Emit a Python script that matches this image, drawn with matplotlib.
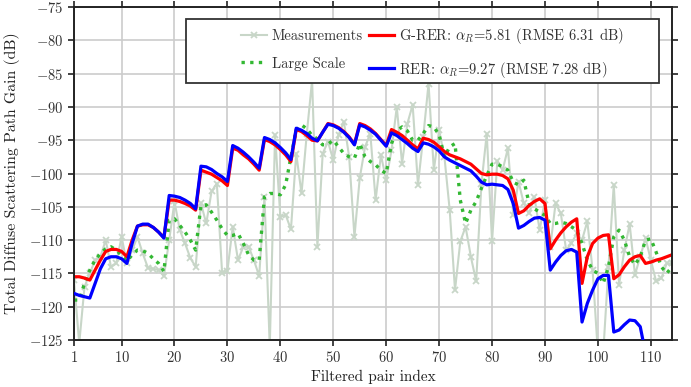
import numpy as np
import matplotlib
matplotlib.use("Agg")
import matplotlib.pyplot as plt
from matplotlib.patches import Rectangle

plt.rcParams['font.family'] = ['cmr10', 'DejaVu Serif']
plt.rcParams['mathtext.fontset'] = 'cm'
plt.rcParams['axes.formatter.use_mathtext'] = True
plt.rcParams['font.size'] = 10.5

# measured gain per filtered pair
idx = np.arange(1, 115)
meas = [-116, -125.5, -117, -115, -113, -112.5, -110, -114, -113.5, -109.5,
        -113.5, -111.5, -109.5, -112, -114.2, -114.3, -114.5, -115.4, -110, -104.2,
        -108.5, -110.5, -112.7, -114, -104.5, -107.5, -102.7, -101.5, -115, -114.6,
        -108, -113, -111, -111, -113, -115.4, -103.5, -126, -94.2, -106.5,
        -106.2, -108.4, -97, -103, -94, -86, -111, -97, -95.2, -98,
        -94.2, -92.2, -97.5, -109.5, -100.7, -96, -94, -104, -97.2, -101,
        -96.5, -90, -98.5, -92.5, -89.7, -101.7, -94.5, -86.5, -99.5, -93.5,
        -97.5, -105.5, -117.5, -110.2, -108, -112.5, -116.2, -101.5, -94, -110.2,
        -98.1, -99.5, -96.2, -106.2, -101.2, -104.5, -106, -103.5, -108.5, -104,
        -111, -104.5, -106, -111.5, -110.5, -109, -110, -107.2, -114.5, -127,
        -127, -114, -101.7, -116.7, -111.5, -107.6, -115.2, -112.5, -109.7, -113,
        -116.2, -115.7, -113.5, -113.5]

large_scale = [-119, -119, -116.5, -114.5, -113, -112, -111.3, -111, -111.5, -112.3,
               -113.2, -112.2, -111.5, -111.6, -112, -112.8, -113.5, -114.7, -107, -106.8,
               -107.8, -108.8, -110, -111.5, -104.8, -104.7, -105.8, -107, -108.3, -109.3,
               -109.3, -109, -110.5, -112.2, -113, -113, -103.5, -103, -103, -103.2,
               -101.7, -97.5, -93.5, -92.7, -93.3, -94.3, -94.8, -95.7, -95.6, -95,
               -96, -97, -97.5, -97.7, -95.5, -97.5, -98.2, -98.7, -99.5, -100,
               -95.5, -93.6, -93, -93.6, -95, -95, -94, -92.8, -93, -94.2,
               -97.5, -96, -95.5, -104, -107.5, -105.5, -104.2, -102.2, -100.3, -98.6,
               -98.6, -99, -99.5, -101.3, -101.7, -101, -104.5, -105.3, -105.8, -106.3,
               -107.5, -107.5, -107.3, -107.5, -108, -108.5, -110.5, -113, -114.5, -115,
               -116.5, -114, -109.5, -108.5, -110, -112.5, -113.7, -112.5, -110, -109.8,
               -111.8, -114, -115, -114]

g_rer = [-115.5, -115.5, -115.7, -116, -114.5, -113, -111.7, -111.4, -111.4, -111.7,
         -112.5, -110, -107.9, -107.7, -107.7, -108.1, -108.8, -109.6, -104, -104,
         -104.2, -104.5, -104.9, -105.5, -99.5, -99.8, -100.1, -100.6, -101.1, -101.8,
         -96.2, -96.5, -97.2, -97.8, -98.6, -99.5, -94.9, -95.2, -95.7, -96.4,
         -97.2, -98.2, -93.4, -93.7, -94.3, -95, -95.1, -93.8, -92.5, -92.7,
         -93.1, -93.7, -94.5, -95.6, -92.5, -92.8, -93.3, -94, -94.9, -95.8,
         -93.4, -93.8, -94.3, -95, -95.7, -96.3, -94.7, -94.9, -95.3, -96,
         -96.7, -97.2, -97.5, -97.8, -98.2, -98.6, -99.3, -100, -100.2, -100.1,
         -100.1, -100.3, -100.8, -102.5, -106, -105.6, -104.8, -104.2, -103.8, -104.5,
         -111.3, -110, -108.9, -108, -107.3, -106.8, -116.5, -112.5, -110.5, -109.7,
         -109.3, -109.2, -115.8, -115.2, -114, -113, -112.5, -112.3, -113.5, -113.3,
         -113, -112.8, -112.5, -112.2]

rer_idx = np.arange(1, 110)
rer = [-118, -118.3, -118.5, -118.7, -116.5, -114.3, -112.8, -112.5, -112.5, -112.8,
       -113.5, -110.5, -107.9, -107.6, -107.6, -108.1, -108.8, -109.7, -103.3, -103.4,
       -103.6, -104, -104.5, -105.3, -98.9, -99, -99.4, -100, -100.5, -101.2,
       -95.8, -96.2, -96.8, -97.5, -98.3, -99.2, -94.6, -94.9, -95.4, -96.1,
       -96.9, -97.9, -93.2, -93.5, -94, -94.7, -95.1, -93.8, -92.6, -92.8,
       -93.2, -93.8, -94.6, -95.7, -92.7, -93, -93.5, -94.1, -95, -95.9,
       -93.9, -94.3, -94.9, -95.5, -96.2, -96.7, -95.4, -95.6, -96, -96.6,
       -97.5, -98, -98.4, -98.8, -99.2, -99.6, -100.4, -101.3, -101.7, -101.6,
       -101.7, -101.8, -102.4, -104.5, -108.2, -107.8, -107.2, -106.7, -106.6, -107,
       -114.5, -113.3, -112.3, -111.6, -111.4, -111.8, -122.3, -119.5, -117.5, -115.8,
       -115.3, -115.3, -123.8, -123.5, -122.7, -122, -122.1, -123, -127]

x_ticks = [1, 10, 20, 30, 40, 50, 60, 70, 80, 90, 100, 110]
y_ticks = np.arange(-125, -74, 5)

fig = plt.figure(figsize=(6.91, 3.87), dpi=100)
ax = fig.add_axes([0.107, 0.1214, 0.8655, 0.8605])

ax.plot(idx, meas, color='#c8d6c8', lw=1.5, marker='x', ms=4, mew=1.3,
        label='Measurements', zorder=2)
ax.plot(idx, large_scale, color='#33b833', lw=2.4, ls=(0, (1, 1.6)),
        label='Large Scale', zorder=2.2)
ax.plot(idx, g_rer, color='#ff0000', lw=2.3,
        label=r'G-RER: $\alpha_R$=5.81 (RMSE 6.31 dB)', zorder=2.4)
ax.plot(rer_idx, rer, color='#0000ff', lw=2.3,
        label=r'RER: $\alpha_R$=9.27 (RMSE 7.28 dB)', zorder=2.6)

ax.set_xlim(1, 114)
ax.set_ylim(-125, -75)
ax.set_xticks(x_ticks)
ax.set_yticks(y_ticks)
ax.grid(True, color='#cccccc', lw=1.2)
ax.set_axisbelow(True)
ax.tick_params(direction='out', top=True, right=True, length=4, width=1.2,
               colors='#222222', labelcolor='#333333', labelsize=10.5)
for s in ax.spines.values():
    s.set_linewidth(1.4)
    s.set_color('#222222')

ax.set_xlabel('Filtered pair index', fontsize=11, color='#222222', labelpad=3)
ax.set_ylabel('Total Diffuse Scattering Path Gain (dB)', fontsize=11.4,
              color='#222222', labelpad=6)

# legend frame drawn separately (it is wider than its content)
ax.add_patch(Rectangle((0.187, 0.771), 0.792, 0.193, transform=ax.transAxes,
                       facecolor='white', edgecolor='#333333', lw=1.3, zorder=4.5))
leg = ax.legend(ncol=2, loc='center left', bbox_to_anchor=(0.26, 0.862),
                frameon=False, fontsize=10.5, handlelength=1.75, handletextpad=0.35,
                columnspacing=0.4, labelspacing=0.9, borderpad=0.3)
leg.set_zorder(5)
for t in leg.get_texts():
    t.set_color('#333333')

fig.savefig('out.png', dpi=100)
